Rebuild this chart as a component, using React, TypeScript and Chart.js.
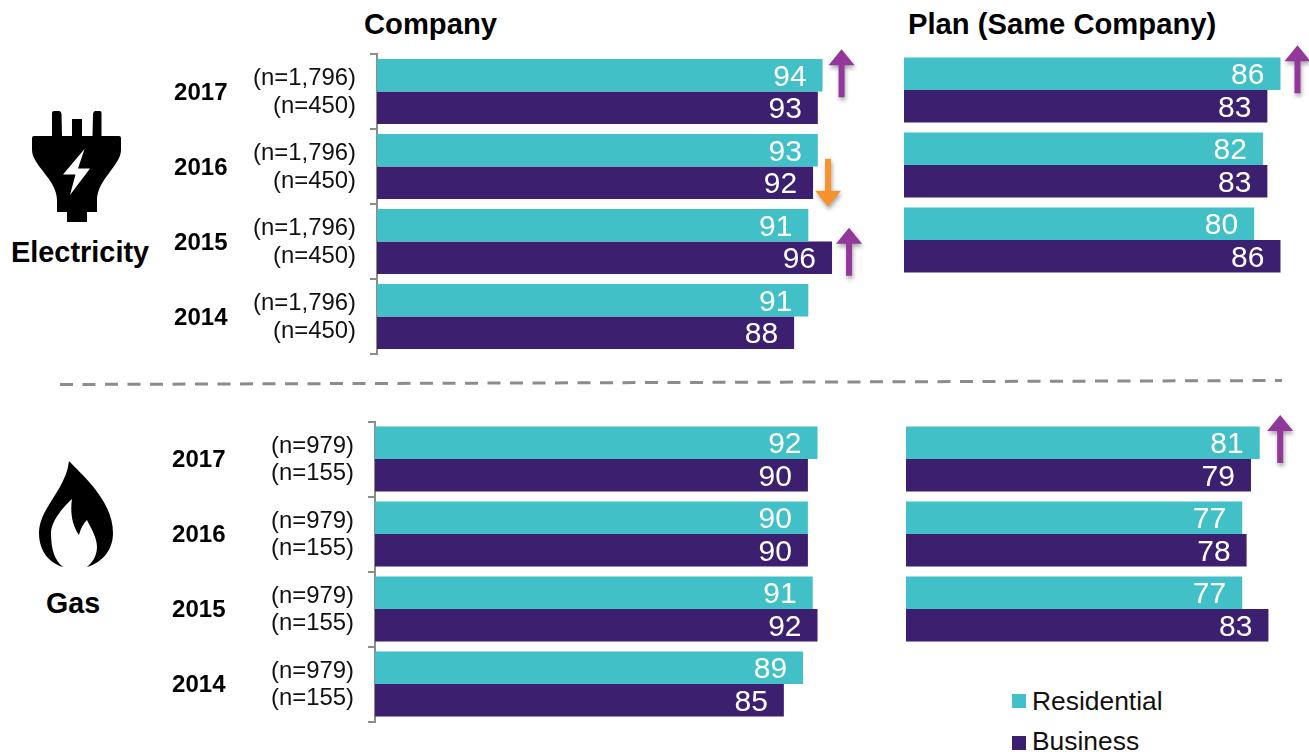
import React, { useEffect, useRef } from "react";
import { Chart, registerables } from "chart.js";

Chart.register(...registerables);

const W = 1309;
const H = 752;
const CANVAS_H = 800;
const FONT = '"Liberation Sans", Arial, sans-serif';
const TEAL = "#41C0C7";
const PURPLE = "#3C1F6E";
const ARROW_PURPLE = "#93379B";
const ARROW_ORANGE = "#F7922E";
const BRACKET = "#8C8C8C";

const years = ["2017", "2016", "2015", "2014"];
const planYears = ["2017", "2016", "2015"];
const seriesNames = ["Residential", "Business"];

const electricityCompanyResidential = [94, 93, 91, 91];
const electricityCompanyBusiness = [93, 92, 96, 88];
const electricityPlanResidential = [86, 82, 80];
const electricityPlanBusiness = [83, 83, 86];
const gasCompanyResidential = [92, 90, 91, 89];
const gasCompanyBusiness = [90, 90, 92, 85];
const gasPlanResidential = [81, 77, 77];
const gasPlanBusiness = [79, 78, 83];

const electricityResidentialN = ["(n=1,796)", "(n=1,796)", "(n=1,796)", "(n=1,796)"];
const electricityBusinessN = ["(n=450)", "(n=450)", "(n=450)", "(n=450)"];
const gasResidentialN = ["(n=979)", "(n=979)", "(n=979)", "(n=979)"];
const gasBusinessN = ["(n=155)", "(n=155)", "(n=155)", "(n=155)"];

type Mark = { series: number; index: number; up: boolean; dx: number; dy: number };

interface Panel {
  labels: string[];
  residential: number[];
  business: number[];
  left: number;
  right: number;
  top: number;
  bottom: number;
  max: number;
  residentialN?: string[];
  businessN?: string[];
  yearRight?: number;
  marks: Mark[];
}

const panels: Panel[] = [
  {
    labels: years,
    residential: electricityCompanyResidential,
    business: electricityCompanyBusiness,
    left: 377,
    right: 851,
    top: 54,
    bottom: 354,
    max: 100,
    residentialN: electricityResidentialN,
    businessN: electricityBusinessN,
    yearRight: 227.5,
    marks: [
      { series: 0, index: 0, up: true, dx: 19, dy: -2 },
      { series: 1, index: 1, up: false, dx: 15, dy: 0 },
      { series: 1, index: 2, up: true, dx: 17, dy: -6 },
    ],
  },
  {
    labels: planYears,
    residential: electricityPlanResidential,
    business: electricityPlanBusiness,
    left: 904,
    right: 1298,
    top: 52.5,
    bottom: 277.5,
    max: 90,
    marks: [{ series: 0, index: 0, up: true, dx: 17, dy: -4.5 }],
  },
  {
    labels: years,
    residential: gasCompanyResidential,
    business: gasCompanyBusiness,
    left: 375,
    right: 856,
    top: 421.5,
    bottom: 721.5,
    max: 100,
    residentialN: gasResidentialN,
    businessN: gasBusinessN,
    yearRight: 225.5,
    marks: [],
  },
  {
    labels: planYears,
    residential: gasPlanResidential,
    business: gasPlanBusiness,
    left: 906,
    right: 1299,
    top: 421.5,
    bottom: 646.5,
    max: 90,
    marks: [{ series: 0, index: 0, up: true, dx: 20.5, dy: -3.7 }],
  },
];

function drawArrow(ctx: CanvasRenderingContext2D, x: number, cy: number, up: boolean) {
  const half = 24;
  const headLen = 16;
  const headHalf = 13;
  const shaftHalf = 3;
  const d = up ? 1 : -1;
  const tip = cy - d * half;
  const base = tip + d * headLen;
  const tail = cy + d * half;
  ctx.save();
  ctx.shadowColor = "rgba(0,0,0,0.35)";
  ctx.shadowBlur = 4;
  ctx.shadowOffsetX = 1;
  ctx.shadowOffsetY = 3;
  ctx.fillStyle = up ? ARROW_PURPLE : ARROW_ORANGE;
  ctx.beginPath();
  ctx.moveTo(x, tip);
  ctx.lineTo(x + headHalf, base);
  ctx.lineTo(x + shaftHalf, base);
  ctx.lineTo(x + shaftHalf, tail);
  ctx.lineTo(x - shaftHalf, tail);
  ctx.lineTo(x - shaftHalf, base);
  ctx.lineTo(x - headHalf, base);
  ctx.closePath();
  ctx.fill();
  ctx.restore();
}

function makeChart(canvas: HTMLCanvasElement, p: Panel) {
  const hasAxis = !!p.residentialN;
  const axisWidth = hasAxis ? 150 : 0;

  const overlay = {
    id: "overlay",
    afterDatasetsDraw(chart: any) {
      const { ctx } = chart;
      // value labels inside the bars
      ctx.save();
      ctx.font = `30px ${FONT}`;
      ctx.fillStyle = "#FFFFFF";
      ctx.textAlign = "right";
      ctx.textBaseline = "middle";
      [0, 1].forEach((s) => {
        const meta = chart.getDatasetMeta(s);
        meta.data.forEach((bar: any, i: number) => {
          ctx.fillText(String(chart.data.datasets[s].data[i]), bar.x - 16, bar.y + 2);
        });
      });
      // year labels
      if (p.yearRight) {
        ctx.font = `bold 24px ${FONT}`;
        ctx.fillStyle = "#000000";
        p.labels.forEach((label, i) => {
          ctx.fillText(label, p.yearRight as number, chart.scales.y.getPixelForTick(i) + 1.5);
        });
      }
      ctx.restore();
      // change markers
      p.marks.forEach((m) => {
        const bar = chart.getDatasetMeta(m.series).data[m.index];
        drawArrow(ctx, bar.x + m.dx, bar.y + m.dy, m.up);
      });
    },
  };

  return new Chart(canvas, {
    type: "bar",
    data: {
      labels: p.labels,
      datasets: [
        {
          label: seriesNames[0],
          data: p.residential,
          backgroundColor: TEAL,
          categoryPercentage: 65 / 75,
          barPercentage: 1,
        },
        {
          label: seriesNames[1],
          data: p.business,
          backgroundColor: PURPLE,
          categoryPercentage: 65 / 75,
          barPercentage: 1,
        },
      ],
    },
    options: {
      indexAxis: "y",
      animation: false,
      responsive: false,
      maintainAspectRatio: false,
      layout: {
        autoPadding: false,
        padding: {
          left: p.left - axisWidth,
          right: W - p.right,
          top: p.top,
          bottom: CANVAS_H - p.bottom,
        },
      },
      plugins: {
        legend: { display: false },
        title: { display: false },
        tooltip: { enabled: false },
      },
      scales: {
        x: { display: false, min: 0, max: p.max },
        y: {
          display: hasAxis,
          afterFit: (scale: any) => {
            if (hasAxis) scale.width = axisWidth;
          },
          border: { display: true, color: BRACKET, width: 2 },
          grid: {
            offset: true,
            drawOnChartArea: false,
            drawTicks: true,
            tickLength: 7,
            color: BRACKET,
            lineWidth: 2,
          },
          ticks: {
            padding: 14,
            labelOffset: 1,
            color: "#111111",
            autoSkip: false,
            font: { family: FONT, size: 23.9, lineHeight: 1.15 },
            callback: (_v: any, i: number) =>
              hasAxis ? [(p.residentialN as string[])[i], (p.businessN as string[])[i]] : "",
          },
        },
      },
    },
    plugins: [overlay],
  } as any);
}

function PanelChart({ panel }: { panel: Panel }) {
  const ref = useRef<HTMLCanvasElement>(null);
  useEffect(() => {
    const chart = makeChart(ref.current as HTMLCanvasElement, panel);
    return () => chart.destroy();
  }, [panel]);
  return (
    <canvas
      ref={ref}
      width={W}
      height={CANVAS_H}
      style={{ position: "absolute", left: 0, top: 0, width: W, height: CANVAS_H }}
    />
  );
}

function Decorations() {
  const bold = { fontFamily: FONT, fontWeight: 700, fill: "#000" };
  const regular = { fontFamily: FONT, fill: "#111" };
  return (
    <svg
      width={W}
      height={H}
      viewBox={`0 0 ${W} ${H}`}
      style={{ position: "absolute", left: 0, top: 0 }}
    >
      <text x={364} y={34} fontSize={29.2} {...bold}>Company</text>
      <text x={908} y={34} fontSize={29.2} {...bold}>Plan (Same Company)</text>
      <text x={11} y={262} fontSize={28.9} {...bold}>Electricity</text>
      <text x={46} y={613} fontSize={28.6} {...bold}>Gas</text>

      <line x1={60} y1={384.5} x2={1282} y2={380.5} stroke={BRACKET} strokeWidth={3} strokeDasharray="13 9.5" />

      {/* plug icon */}
      <path
        d="M52 136 L52 113 Q52 111 54 111 L59 111 Q61 111 61.5 114 L62 136 Z M72 136 L72 119 L82 119 L82 136 Z M92.5 136 L93 114 Q93.5 111 95.5 111 L100 111 Q101.5 111 101.5 113 L101.5 136 Z
           M34 136 L119 136 Q121 136 121 138 L121 150 C121 165 97 180 97 200 L97 212 L87 212 L87 222 L67 222 L67 212 L57 212 L57 200 C57 180 32 165 32 150 L32 138 Q32 136 34 136 Z"
        fill="#000"
      />
      <path d="M84.5 149 L63 174.5 L75.5 174.5 L70 195 L90 168.5 L78 168.5 Z" fill="#fff" />

      {/* flame icon */}
      <path
        d="M69 461 C80 473 113 500 113 533 C113 552 100 563 87 567 L63 567 C50 563 39 552 39 533 C39 508 66 490 69 461 Z"
        fill="#000"
      />
      <path
        d="M72 499 C70 512 72 525 79 535 C81 528 83 524 87 520 C92 530 97 538 97 547 C97 556 92 563 87 567 L63 567 C55 561 51 550 51 533 C51 522 62 508 72 499 Z"
        fill="#fff"
      />

      {/* legend */}
      <rect x={1012} y={694} width={14} height={14} fill={TEAL} />
      <text x={1032} y={710} fontSize={26.4} {...regular}>{seriesNames[0]}</text>
      <rect x={1012} y={736} width={14} height={14} fill={PURPLE} />
      <text x={1032} y={749.5} fontSize={26.4} {...regular}>{seriesNames[1]}</text>
    </svg>
  );
}

export default function App() {
  return (
    <div style={{ position: "absolute", left: 0, top: 0, width: W, height: H, overflow: "hidden", background: "#fff" }}>
      <Decorations />
      {panels.map((p, i) => (
        <PanelChart key={i} panel={p} />
      ))}
    </div>
  );
}
